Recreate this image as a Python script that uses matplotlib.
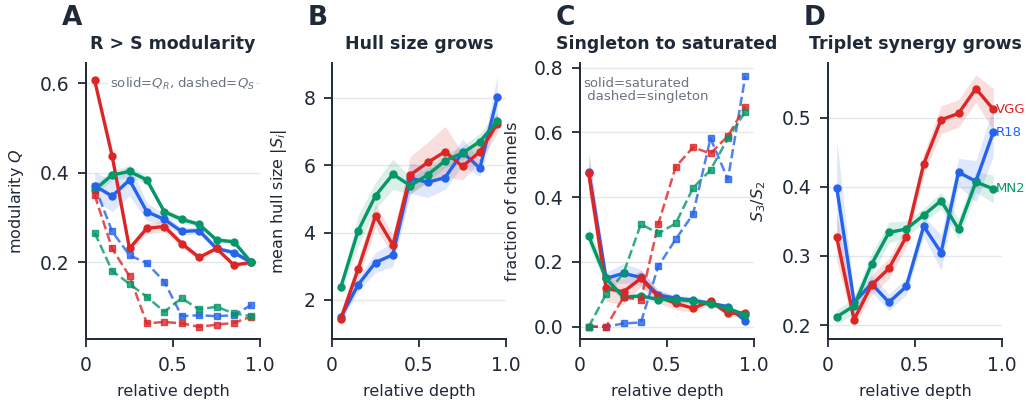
import matplotlib
matplotlib.use("Agg")
import matplotlib.pyplot as plt
import numpy as np

# relative depth bins
depth = [0.05, 0.15, 0.25, 0.35, 0.45, 0.55, 0.65, 0.75, 0.85, 0.95]
models = ["VGG", "R18", "MN2"]

# A: modularity, Q_R (solid) and Q_S (dashed)
qr_vgg = [0.606, 0.438, 0.231, 0.276, 0.280, 0.242, 0.211, 0.231, 0.194, 0.200]
qr_r18 = [0.371, 0.348, 0.384, 0.313, 0.296, 0.269, 0.271, 0.231, 0.222, 0.200]
qr_mn2 = [0.362, 0.395, 0.403, 0.384, 0.313, 0.296, 0.285, 0.250, 0.246, 0.200]
qr_vgg_err = [0.005, 0.005, 0.008, 0.012, 0.012, 0.008, 0.006, 0.006, 0.005, 0.004]
qr_r18_err = [0.030, 0.035, 0.035, 0.020, 0.012, 0.008, 0.008, 0.006, 0.006, 0.004]
qr_mn2_err = [0.010, 0.012, 0.012, 0.008, 0.008, 0.008, 0.006, 0.006, 0.006, 0.004]
qs_vgg = [0.350, 0.231, 0.169, 0.064, 0.067, 0.064, 0.056, 0.061, 0.065, 0.079]
qs_r18 = [0.371, 0.269, 0.216, 0.198, 0.157, 0.080, 0.082, 0.080, 0.082, 0.105]
qs_mn2 = [0.266, 0.181, 0.152, 0.123, 0.090, 0.120, 0.095, 0.101, 0.086, 0.080]

# B: mean hull size
hull_vgg = [1.43, 2.91, 4.50, 3.63, 5.71, 6.08, 6.40, 5.96, 6.40, 7.23]
hull_r18 = [1.48, 2.45, 3.11, 3.34, 5.61, 5.49, 5.63, 6.38, 5.91, 8.01]
hull_mn2 = [2.37, 4.05, 5.09, 5.73, 5.39, 5.71, 6.13, 6.36, 6.70, 7.30]
hull_vgg_err = [0.20, 0.30, 0.35, 0.30, 0.55, 0.60, 0.75, 0.40, 0.30, 0.30]
hull_r18_err = [0.15, 0.20, 0.30, 0.35, 0.45, 0.45, 0.35, 0.40, 0.25, 0.65]
hull_mn2_err = [0.15, 0.45, 0.40, 0.45, 0.25, 0.20, 0.20, 0.20, 0.25, 0.25]

# C: fraction saturated (solid) and singleton (dashed)
sat_vgg = [0.474, 0.118, 0.108, 0.149, 0.093, 0.072, 0.057, 0.079, 0.041, 0.043]
sat_r18 = [0.479, 0.149, 0.165, 0.152, 0.098, 0.088, 0.082, 0.072, 0.062, 0.018]
sat_mn2 = [0.280, 0.149, 0.091, 0.095, 0.084, 0.084, 0.080, 0.069, 0.057, 0.036]
sat_vgg_err = [0.06, 0.04, 0.04, 0.025, 0.02, 0.02, 0.012, 0.01, 0.01, 0.01]
sat_r18_err = [0.06, 0.02, 0.03, 0.025, 0.015, 0.01, 0.01, 0.008, 0.008, 0.006]
sat_mn2_err = [0.03, 0.02, 0.01, 0.01, 0.008, 0.008, 0.008, 0.006, 0.006, 0.006]
sing_vgg = [0.0, 0.0, 0.091, 0.083, 0.317, 0.494, 0.554, 0.535, 0.589, 0.680]
sing_r18 = [0.0, 0.0, 0.010, 0.013, 0.187, 0.270, 0.348, 0.582, 0.455, 0.774]
sing_mn2 = [0.0, 0.100, 0.165, 0.317, 0.288, 0.319, 0.429, 0.484, 0.582, 0.664]

# D: triplet synergy ratio S3/S2
syn_vgg = [0.327, 0.208, 0.258, 0.282, 0.328, 0.433, 0.497, 0.506, 0.542, 0.512]
syn_r18 = [0.399, 0.233, 0.260, 0.233, 0.256, 0.343, 0.305, 0.421, 0.408, 0.479]
syn_mn2 = [0.212, 0.228, 0.288, 0.334, 0.339, 0.359, 0.380, 0.339, 0.407, 0.397]
syn_vgg_err = [0.035, 0.01, 0.015, 0.015, 0.015, 0.015, 0.02, 0.02, 0.02, 0.03]
syn_r18_err = [0.07, 0.01, 0.012, 0.012, 0.012, 0.015, 0.025, 0.02, 0.03, 0.035]
syn_mn2_err = [0.01, 0.012, 0.015, 0.015, 0.012, 0.01, 0.012, 0.015, 0.015, 0.02]

colors = {"VGG": "#dc2626", "R18": "#2563eb", "MN2": "#059669"}
dark = "#1f2937"
gray = "#6b7280"

plt.rcParams["font.family"] = "DejaVu Sans"
plt.rcParams["text.color"] = dark
plt.rcParams["axes.labelcolor"] = dark

fig = plt.figure(figsize=(10.26, 4.08), dpi=100)
W, H = 1026, 408
lefts = [86, 332, 580, 828]
axes = [fig.add_axes([l / W, 69 / H, 174 / W, 276 / H]) for l in lefts]


def solid(ax, y, err, name):
    y = np.array(y)
    err = np.array(err)
    ax.fill_between(depth, y - err, y + err, color=colors[name], alpha=0.15, lw=0)
    ax.plot(depth, y, "-o", color=colors[name], lw=2.4, ms=5)


def dashed(ax, y, name):
    ax.plot(depth, y, "--s", color=colors[name], lw=1.8, ms=5, alpha=0.8)


def style(ax, title, ylabel, ylim, yticks, yticklabels):
    ax.set_xlim(0, 1)
    ax.set_ylim(*ylim)
    ax.set_xticks([0, 0.5, 1.0])
    ax.set_xticklabels(["0", "0.5", "1.0"])
    ax.set_yticks(yticks)
    ax.set_yticklabels(yticklabels)
    ax.tick_params(labelsize=13.5, colors=dark, length=6, width=1.3, pad=6)
    for s in ["top", "right"]:
        ax.spines[s].set_visible(False)
    for s in ["left", "bottom"]:
        ax.spines[s].set_color(dark)
        ax.spines[s].set_linewidth(1.4)
    ax.grid(axis="y", color="#e5e7eb", lw=1)
    ax.set_axisbelow(True)
    ax.set_title(title, fontsize=12.5, fontweight="bold", color=dark, pad=10)
    ax.set_xlabel("relative depth", fontsize=11.5, labelpad=7)
    ax.set_ylabel(ylabel, fontsize=11.5, labelpad=10)


# A
ax = axes[0]
solid(ax, qr_r18, qr_r18_err, "R18")
solid(ax, qr_vgg, qr_vgg_err, "VGG")
solid(ax, qr_mn2, qr_mn2_err, "MN2")
dashed(ax, qs_r18, "R18")
dashed(ax, qs_vgg, "VGG")
dashed(ax, qs_mn2, "MN2")
style(ax, "R > S modularity", "modularity $Q$", (0.029, 0.645),
      [0.2, 0.4, 0.6], ["0.2", "0.4", "0.6"])
ax.text(0.97, 0.924, "solid=$Q_R$, dashed=$Q_S$", transform=ax.transAxes,
        ha="right", va="center", fontsize=9.5, color=gray,
        bbox=dict(facecolor="white", edgecolor="none", pad=1))

# B
ax = axes[1]
solid(ax, hull_r18, hull_r18_err, "R18")
solid(ax, hull_vgg, hull_vgg_err, "VGG")
solid(ax, hull_mn2, hull_mn2_err, "MN2")
style(ax, "Hull size grows", "mean hull size $|S_i|$", (0.84, 9.03),
      [2, 4, 6, 8], ["2", "4", "6", "8"])

# C
ax = axes[2]
solid(ax, sat_r18, sat_r18_err, "R18")
solid(ax, sat_vgg, sat_vgg_err, "VGG")
solid(ax, sat_mn2, sat_mn2_err, "MN2")
dashed(ax, sing_r18, "R18")
dashed(ax, sing_vgg, "VGG")
dashed(ax, sing_mn2, "MN2")
style(ax, "Singleton to saturated", "fraction of channels", (-0.038, 0.8145),
      [0, 0.2, 0.4, 0.6, 0.8], ["0.0", "0.2", "0.4", "0.6", "0.8"])
ax.text(0.02, 0.95, "solid=saturated\n dashed=singleton", transform=ax.transAxes,
        ha="left", va="top", fontsize=9.5, color=gray, linespacing=1.0)

# D
ax = axes[3]
solid(ax, syn_r18, syn_r18_err, "R18")
solid(ax, syn_vgg, syn_vgg_err, "VGG")
solid(ax, syn_mn2, syn_mn2_err, "MN2")
style(ax, "Triplet synergy grows", "$S_3/S_2$", (0.18, 0.579),
      [0.2, 0.3, 0.4, 0.5], ["0.2", "0.3", "0.4", "0.5"])
for name, ys in zip(models, [syn_vgg, syn_r18, syn_mn2]):
    ax.text(depth[-1] + 0.015, ys[-1], name, color=colors[name], fontsize=9.5,
            ha="left", va="center", clip_on=False)

for ax, letter in zip(axes, "ABCD"):
    x0 = ax.get_position().x0 - 24 / W
    fig.text(x0, 1 - 5 / H, letter, fontsize=19, fontweight="bold",
             color=dark, ha="left", va="top")

fig.savefig("out.png", dpi=100)
